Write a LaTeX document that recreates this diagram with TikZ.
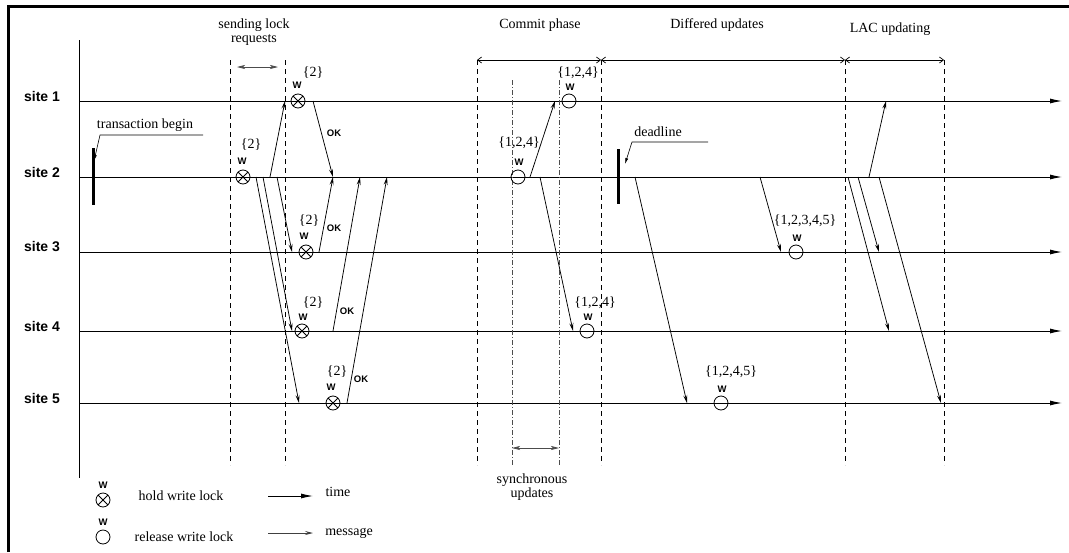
\documentclass[tikz,border=0pt]{standalone}
\usepackage{fontspec}
\setmainfont{Liberation Serif}
\setsansfont{Liberation Sans}
\usetikzlibrary{arrows.meta}
\begin{document}
\begin{tikzpicture}[x=1pt,y=-1pt,
  sitelbl/.style={font=\sffamily\bfseries\fontsize{14}{16}\selectfont,inner sep=0pt},
  lbl/.style={font=\fontsize{14}{14.5}\selectfont,inner sep=0pt,align=center},
  wl/.style={font=\sffamily\bfseries\fontsize{9.5}{10}\selectfont,inner sep=0pt},
  oklbl/.style={font=\sffamily\bfseries\fontsize{9.5}{10}\selectfont,inner sep=0pt},
  hold/.style={circle,draw,line width=0.8pt,minimum size=14pt,inner sep=0pt,
    path picture={\draw[line width=0.8pt] (path picture bounding box.north east) -- (path picture bounding box.south west)
      (path picture bounding box.north west) -- (path picture bounding box.south east);}},
  rel/.style={circle,draw,line width=0.8pt,minimum size=14pt,inner sep=0pt},
  timeline/.style={line width=0.9pt,-{Latex[length=12pt,width=5pt]}},
  msg/.style={line width=0.75pt,-{Stealth[length=8pt,width=4pt,inset=3pt]}},
  dim/.style={line width=0.7pt,{Straight Barb[length=4pt,width=6pt]}-{Straight Barb[length=4pt,width=6pt]}},
  span/.style={line width=0.7pt,black!70,{Stealth[length=8pt,width=4pt,inset=2pt]}-{Stealth[length=8pt,width=4pt,inset=2pt]}},
  phase/.style={line width=0.75pt,dash pattern=on 5pt off 4pt},
  sync/.style={line width=0.7pt,black!70,dash pattern=on 5pt off 2pt on 1pt off 2pt},
  bar/.style={line width=3pt},
  leader/.style={line width=0.6pt,-{Latex[length=6pt,width=3pt]}}
]
\useasboundingbox (0,0) rectangle (1069,552);
% frame
\draw[line width=2.5pt] (8.5,552) -- (8.5,6.5) -- (1069,6.5);
% axis
\coordinate (axT) at (79,40);
\coordinate (axB) at (79,478);
\draw[line width=0.8pt] (axT) -- (axB);
% site lines
\foreach \i/\y in {1/101,2/177,3/252,4/331,5/403}{
  \coordinate (L\i) at (79,\y);
  \coordinate (R\i) at (1062,\y);
  \draw[timeline] (L\i) -- (R\i);
  \node[sitelbl] (site\i) at (42,\y-5) {site \i};
}
% phase separators
\foreach \n/\x in {a/230,b/285,c/477,d/601,e/845,f/944}{
  \coordinate (P\n t) at (\x,60);
  \coordinate (P\n b) at (\x,465);
  \draw[phase] (P\n t) -- (P\n b);
}
\foreach \n/\x in {g/512,h/559}{
  \coordinate (P\n t) at (\x,80);
  \coordinate (P\n b) at (\x,465);
  \draw[sync] (P\n t) -- (P\n b);
}
\draw[dim] (Pct) -- (Pdt);
\draw[dim] (Pdt) -- (Pet);
\draw[dim] (Pet) -- (Pft);
\coordinate (sa) at (237,67);
\coordinate (sb) at (278,67);
\draw[span] (sa) -- (sb);
\coordinate (ya) at (512,448);
\coordinate (yb) at (559,448);
\draw[span] (ya) -- (yb);
% phase labels
\node[lbl] (tsend) at (254,32) {sending lock\\requests};
\node[lbl] (tcommit) at (540,25) {Commit phase};
\node[lbl] (tdiff) at (717,25) {Differed updates};
\node[lbl] (tlac) at (890,29) {LAC updating};
\node[lbl] (tsync) at (532,487) {synchronous\\updates};
% transaction begin
\coordinate (tb1) at (93,148);
\coordinate (tb2) at (93,205);
\draw[bar] (tb1) -- (tb2);
\node[lbl] (ttrans) at (145,125) {transaction begin};
\coordinate (tl1) at (203,135);
\coordinate (tl2) at (100,135);
\coordinate (tl3) at (94,161);
\draw[leader] (tl1) -- (tl2) -- (tl3);
% deadline
\coordinate (dl1) at (618,149);
\coordinate (dl2) at (618,204);
\draw[bar] (dl1) -- (dl2);
\node[lbl] (tdead) at (658,132) {deadline};
\coordinate (dd1) at (708,142);
\coordinate (dd2) at (632,142);
\coordinate (dd3) at (625,164);
\draw[leader] (dd1) -- (dd2) -- (dd3);
% write locks held
\node[hold] (h1) at (298,101) {};
\node[wl] (w1) at (297,85) {W};
\node[lbl] (s1) at (313,73) {\{2\}};
\node[hold] (h2) at (243,177) {};
\node[wl] (w2) at (242,161) {W};
\node[lbl] (s2) at (251,145) {\{2\}};
\node[hold] (h3) at (306,252) {};
\node[wl] (w3) at (304,236) {W};
\node[lbl] (s3) at (309,221) {\{2\}};
\node[hold] (h4) at (302,331) {};
\node[wl] (w4) at (303,317) {W};
\node[lbl] (s4) at (313,303) {\{2\}};
\node[hold] (h5) at (333,403) {};
\node[wl] (w5) at (331,387) {W};
\node[lbl] (s5) at (337,372) {\{2\}};
% lock requests
\coordinate (q0) at (270,177); \coordinate (q0e) at (285,101);
\coordinate (q1) at (256,177); \coordinate (q1e) at (299,403);
\coordinate (q2) at (263,177); \coordinate (q2e) at (292,331);
\coordinate (q3) at (277,177); \coordinate (q3e) at (292,252);
\draw[msg] (q0) -- (q0e);
\draw[msg] (q1) -- (q1e);
\draw[msg] (q2) -- (q2e);
\draw[msg] (q3) -- (q3e);
% OK replies
\coordinate (k1) at (313,101); \coordinate (k1e) at (333,177);
\coordinate (k3) at (319,252); \coordinate (k3e) at (333,177);
\coordinate (k4) at (333,331); \coordinate (k4e) at (360,177);
\coordinate (k5) at (347,403); \coordinate (k5e) at (387,177);
\draw[msg] (k1) -- (k1e);
\draw[msg] (k3) -- (k3e);
\draw[msg] (k4) -- (k4e);
\draw[msg] (k5) -- (k5e);
\node[oklbl] (ok1) at (334,133) {OK};
\node[oklbl] (ok3) at (334,228) {OK};
\node[oklbl] (ok4) at (347,311) {OK};
\node[oklbl] (ok5) at (361,379) {OK};
% commit phase
\node[rel] (c2) at (518,177) {};
\node[wl] (cw2) at (519,162) {W};
\node[lbl] (cs2) at (519,143) {\{1,2,4\}};
\node[rel] (c1) at (569,101) {};
\node[wl] (cw1) at (570,87) {W};
\node[lbl] (cs1) at (578,73) {\{1,2,4\}};
\node[rel] (c4) at (587,331) {};
\node[wl] (cw4) at (588,317) {W};
\node[lbl] (cs4) at (595,303) {\{1,2,4\}};
\coordinate (m1) at (530,177); \coordinate (m1e) at (555,101);
\coordinate (m2) at (540,177); \coordinate (m2e) at (573,331);
\draw[msg] (m1) -- (m1e);
\draw[msg] (m2) -- (m2e);
% differed updates
\node[rel] (d5) at (721,403) {};
\node[wl] (dw5) at (722,389) {W};
\node[lbl] (ds5) at (731,372) {\{1,2,4,5\}};
\node[rel] (d3) at (796,252) {};
\node[wl] (dw3) at (797,238) {W};
\node[lbl] (ds3) at (805,221) {\{1,2,3,4,5\}};
\coordinate (u1) at (635,177); \coordinate (u1e) at (687,403);
\coordinate (u2) at (760,177); \coordinate (u2e) at (781,252);
\draw[msg] (u1) -- (u1e);
\draw[msg] (u2) -- (u2e);
% LAC updating
\coordinate (a1) at (869,177); \coordinate (a1e) at (886,101);
\coordinate (a2) at (858,177); \coordinate (a2e) at (879,252);
\coordinate (a3) at (848,177); \coordinate (a3e) at (889,331);
\coordinate (a4) at (879,177); \coordinate (a4e) at (941,403);
\draw[msg] (a1) -- (a1e);
\draw[msg] (a2) -- (a2e);
\draw[msg] (a3) -- (a3e);
\draw[msg] (a4) -- (a4e);
% legend
\node[hold] (lh) at (103,500) {};
\node[wl] (lhw) at (103,485) {W};
\node[lbl] (lht) at (181,496) {hold write lock};
\node[rel] (lr) at (103,537) {};
\node[wl] (lrw) at (103,522) {W};
\node[lbl] (lrt) at (184,537) {release write lock};
\coordinate (lt1) at (268,496); \coordinate (lt2) at (313,496);
\draw[timeline] (lt1) -- (lt2);
\node[lbl] (ltt) at (338,492) {time};
\coordinate (lm1) at (268,533); \coordinate (lm2) at (313,533);
\draw[msg,black!75] (lm1) -- (lm2);
\node[lbl] (lmt) at (349,533) {message};
\end{tikzpicture}
\end{document}
